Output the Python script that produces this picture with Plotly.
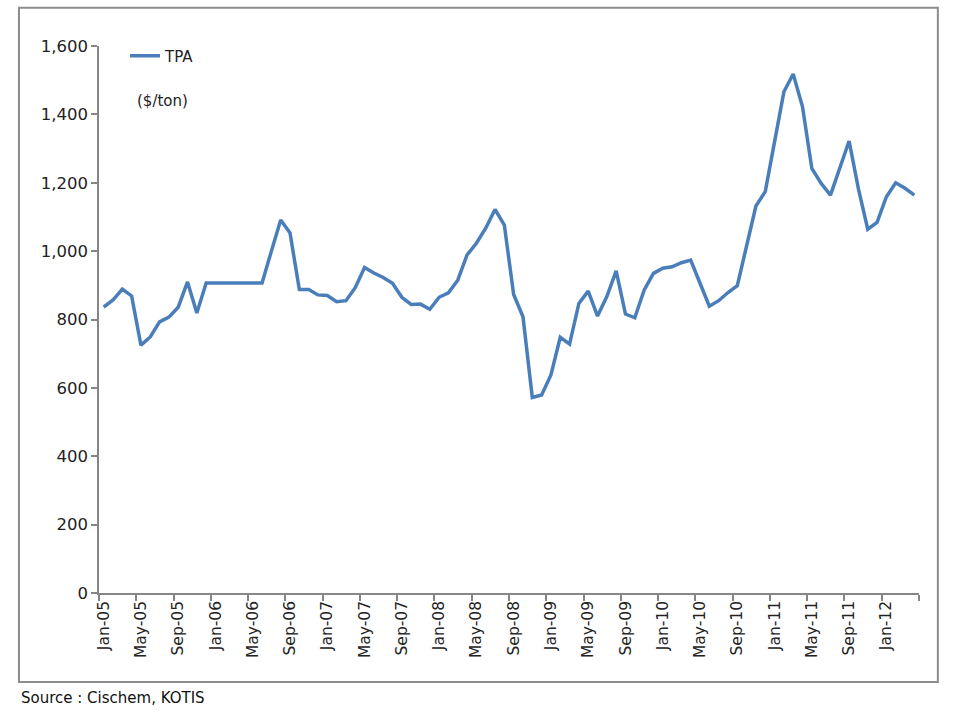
import pandas as pd
import plotly.graph_objects as go

months = list(pd.date_range("2005-01-01", periods=88, freq="MS").strftime("%b-%y"))

tpa = [
    836, 857, 889, 869, 725, 749, 793, 807, 836, 910, 819, 907,
    907, 907, 907, 907, 907, 907, 1000, 1091, 1053, 888, 888, 872,
    870, 852, 855, 893, 952, 936, 923, 906, 865, 844, 845, 830,
    865, 878, 915, 989, 1023, 1067, 1122, 1076, 873, 808, 572, 579,
    638, 748, 728, 847, 883, 810, 867, 942, 816, 805, 886, 935,
    950, 954, 966, 974, 906, 839, 855, 879, 899, 1013, 1132, 1174,
    1325, 1466, 1518, 1422, 1242, 1198, 1164, 1247, 1322, 1182, 1064, 1084,
    1159, 1200, 1184, 1164,
]

series_name = "TPA"
unit_label = "($/ton)"
source_text = "Source : Cischem, KOTIS"
y_ticks = [0, 200, 400, 600, 800, 1000, 1200, 1400, 1600]

idx = list(range(len(months)))
label_idx = idx[::4]
boundary_ticks = [k - 0.5 for k in range(0, len(months) + 1, 4)]

FONT = "DejaVu Sans"
TEXT = "#222222"
AXIS_COLOR = "#868686"

fig = go.Figure()
fig.add_trace(go.Scatter(
    x=idx, y=tpa, mode="lines", name=series_name,
    line=dict(color="#4A7EBB", width=3.5),
))

fig.update_layout(
    width=960, height=720,
    margin=dict(l=99, r=41, t=46, b=127),
    paper_bgcolor="white", plot_bgcolor="white",
    font=dict(family=FONT, size=15, color=TEXT),
    showlegend=True,
    legend=dict(
        x=0.0317, y=1.012, xanchor="left", yanchor="top",
        bgcolor="rgba(0,0,0,0)", font=dict(size=15, color=TEXT),
        itemwidth=30,
    ),
    xaxis=dict(
        range=[-0.5, len(months) - 0.5],
        tickmode="array", tickvals=label_idx,
        ticktext=[months[i] for i in label_idx],
        tickangle=-90, ticks="", showgrid=False, zeroline=False,
        showline=True, linecolor=AXIS_COLOR, linewidth=1.5,
        tickfont=dict(size=15.5, color=TEXT),
        minor=dict(tickmode="array", tickvals=boundary_ticks,
                   ticks="outside", ticklen=6, tickcolor=AXIS_COLOR,
                   tickwidth=1.5, showgrid=False),
    ),
    yaxis=dict(
        range=[0, 1600], tickmode="array", tickvals=y_ticks,
        tickformat=",", ticks="outside", ticklen=6,
        tickcolor=AXIS_COLOR, tickwidth=1.5,
        showgrid=False, zeroline=False,
        showline=True, linecolor=AXIS_COLOR, linewidth=1.5,
        tickfont=dict(size=16.5, color=TEXT),
    ),
)

fig.add_annotation(
    text=unit_label, xref="paper", yref="paper",
    x=0.044, y=0.9, xanchor="left", yanchor="middle",
    showarrow=False, font=dict(size=15, color=TEXT),
)
fig.add_annotation(
    text=source_text, xref="paper", yref="paper",
    x=-0.097, y=-0.192, xanchor="left", yanchor="middle",
    showarrow=False, font=dict(size=15, color="#111111"),
)
fig.add_shape(
    type="rect", xref="paper", yref="paper",
    x0=-0.0976, x1=1.023, y0=-0.1627, y1=1.07,
    line=dict(color="#8c8c8c", width=2), layer="below",
)

fig.write_html("out.html")
